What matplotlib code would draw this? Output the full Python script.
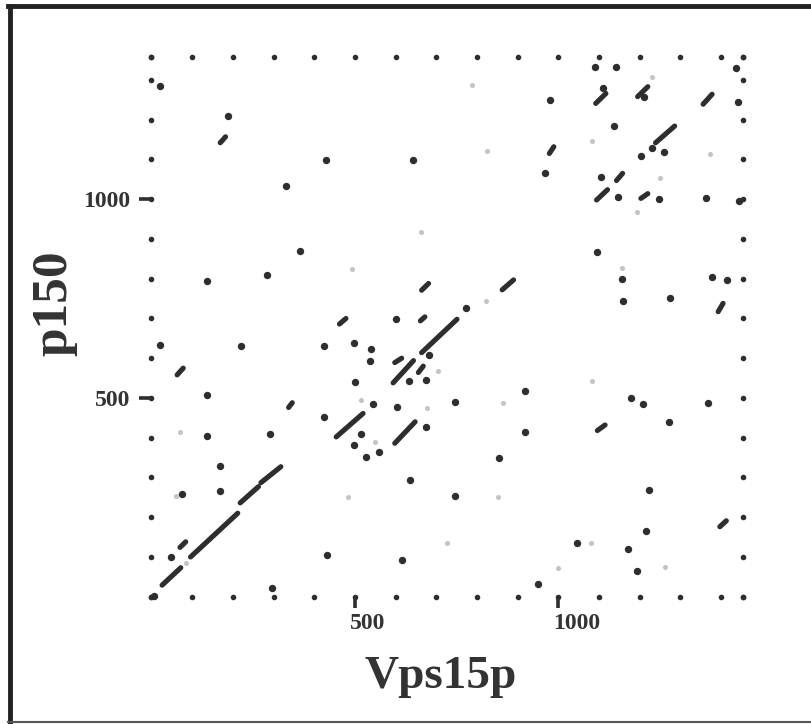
import numpy as np
import matplotlib
matplotlib.use('Agg')
import matplotlib.pyplot as plt
from matplotlib.transforms import ScaledTranslation

# sequence lengths (residues)
vps15_len = 1454
p150_len = 1358

# diagonal runs of similarity (Vps15p start, p150 start, Vps15p end, p150 end)
seg_x0 = [26, 96, 218, 269, 454, 594, 664, 862, 1239,
          169, 664, 462, 661, 63, 337, 70, 598, 656, 598,
          978, 1092, 1195, 1356, 1143, 1094, 1203, 1393, 1096, 1397]
seg_y0 = [29, 100, 236, 287, 402, 538, 614, 772, 1142,
          1142, 771, 686, 694, 558, 476, 124, 589, 564, 386,
          1115, 1241, 1258, 1239, 1047, 998, 1002, 717, 418, 176]
seg_x1 = [72, 212, 263, 318, 520, 644, 751, 890, 1286,
          182, 681, 478, 672, 78, 346, 84, 615, 668, 648,
          989, 1117, 1220, 1378, 1158, 1121, 1220, 1405, 1115, 1413]
seg_y1 = [73, 210, 277, 327, 461, 594, 698, 797, 1184,
          1157, 788, 700, 704, 575, 488, 138, 600, 580, 440,
          1132, 1266, 1283, 1264, 1065, 1024, 1014, 738, 432, 191]

# single matching windows
dot_x = [20, 187, 430, 644, 331, 366, 136, 283, 600, 22, 220, 423, 497, 540,
         536, 682, 632, 674, 500, 137, 425, 545, 603, 516, 497, 528, 560, 674,
         137, 292, 169, 169, 76, 48, 432, 615, 635, 297, 5, 773,
         1091, 1141, 1436, 1109, 1211, 1442, 980, 1137, 1230, 1203, 1261, 967,
         1104, 1146, 1247, 1362, 1445, 1094, 1156, 1378, 1415, 1160, 1275, 918,
         918, 855, 745, 745, 1178, 1209, 1368, 1272, 1222, 1216, 1047, 1172,
         1193, 951]
dot_y = [1284, 1210, 1099, 1099, 1033, 870, 794, 809, 699, 633, 631, 630, 637,
         622, 594, 608, 543, 545, 541, 507, 452, 486, 478, 409, 382, 351, 364,
         428, 404, 409, 329, 265, 258, 99, 105, 92, 294, 23, 3, 726,
         1332, 1333, 1329, 1279, 1258, 1245, 1250, 1184, 1130, 1109, 1118, 1065,
         1057, 1005, 1001, 1002, 995, 868, 800, 805, 797, 744, 752, 518,
         415, 350, 490, 253, 499, 486, 487, 440, 268, 165, 134, 120,
         65, 32]

# weak matches (light grey)
faint_x = [662, 494, 516, 549, 676, 705, 70, 59, 84, 483, 726, 822, 1230, 788,
           1084, 825, 1372, 1250, 1193, 1156, 1084, 864, 851, 1080, 1263, 999]
faint_y = [918, 824, 495, 390, 475, 567, 415, 254, 84, 252, 134, 745, 1307, 1287,
           1146, 1122, 1114, 1053, 968, 826, 543, 488, 250, 134, 75, 72]

xtick_vals = [500, 1000]
ytick_vals = [500, 1000]

serif = ['Liberation Serif', 'DejaVu Serif']
ink = '#2e2e2e'

fig = plt.figure(figsize=(8.12, 7.24), dpi=100)
ax = fig.add_axes([151.5/812, (724-596.7)/724, 591.5/812, 539.8/724])
ax.set_xlim(0, vps15_len)
ax.set_ylim(0, p150_len)

# dotted frame every 100 residues
bx = np.append(np.arange(0, vps15_len, 100), vps15_len)
by = np.append(np.arange(0, p150_len, 100), p150_len)
ax.plot(bx, np.zeros_like(bx), 'o', ms=3.0, color=ink, clip_on=False)
ax.plot(bx, np.full_like(bx, p150_len), 'o', ms=3.0, color=ink, clip_on=False)
ax.plot(np.zeros_like(by), by, 'o', ms=3.0, color=ink, clip_on=False)
ax.plot(np.full_like(by, vps15_len), by, 'o', ms=3.0, color=ink, clip_on=False)

for i in range(len(seg_x0)):
    ax.plot([seg_x0[i], seg_x1[i]], [seg_y0[i], seg_y1[i]], '-', lw=3.7,
            color=ink, solid_capstyle='round', clip_on=False)
ax.plot(dot_x, dot_y, 'o', ms=4.3, color=ink, clip_on=False)
ax.plot(faint_x, faint_y, 'o', ms=2.6, color='#c4c4c4', clip_on=False)

for s in ax.spines.values():
    s.set_visible(False)

ax.set_xticks(xtick_vals)
ax.set_xticklabels([str(v) for v in xtick_vals])
ax.set_yticks(ytick_vals)
ax.set_yticklabels([str(v) for v in ytick_vals])
ax.tick_params(axis='x', direction='out', length=8, width=2.6, color=ink, pad=3.5)
ax.tick_params(axis='y', direction='out', length=9, width=2.6, color=ink, pad=6)
for lab in ax.get_xticklabels():
    lab.set_ha('left')
    lab.set_transform(lab.get_transform() + ScaledTranslation(-0.05, 0, fig.dpi_scale_trans))
for lab in ax.get_xticklabels() + ax.get_yticklabels():
    lab.set_fontfamily(serif)
    lab.set_fontweight('bold')
    lab.set_fontsize(17)
    lab.set_color('#333333')

fig.text(441/812, 1-677/724, 'Vps15p', ha='center', va='center', fontsize=34,
         fontweight='bold', family=serif, color='#333333')
fig.text(54/812, 1-303/724, 'p150', ha='center', va='center', fontsize=37,
         fontweight='bold', family=serif, color='#333333', rotation=90)

# picture frame
fig.add_artist(plt.Line2D([10/812, 10/812], [2/724, 1-6/724], transform=fig.transFigure,
                          lw=3.5, color='#222222'))
fig.add_artist(plt.Line2D([8/812, 1], [1-6/724, 1-6/724], transform=fig.transFigure,
                          lw=3.5, color='#222222'))
fig.add_artist(plt.Line2D([8/812, 1], [2/724, 2/724], transform=fig.transFigure,
                          lw=1.5, color='#555555'))

fig.savefig('out.png', dpi=100)
